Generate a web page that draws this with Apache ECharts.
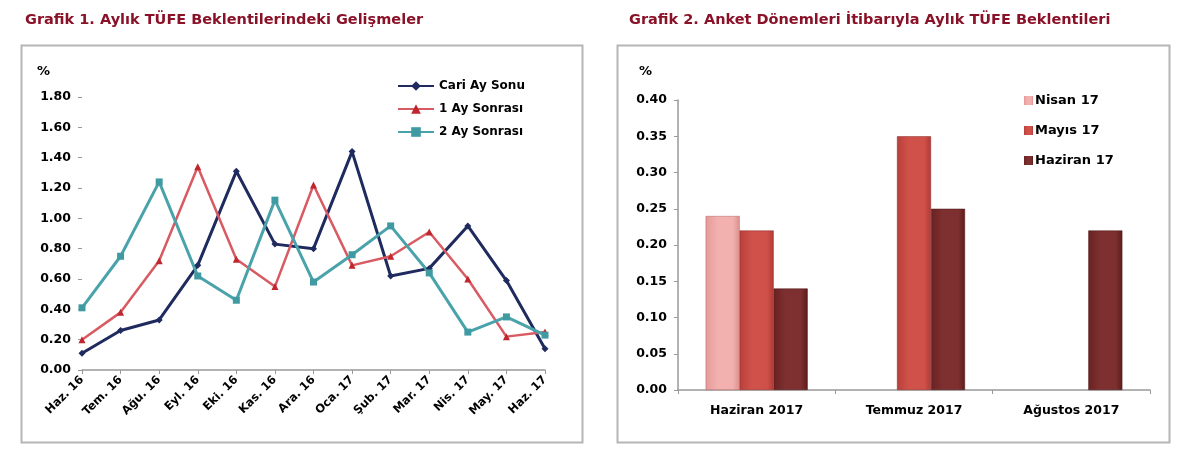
<!DOCTYPE html>
<html><head><meta charset="utf-8">
<script src="https://cdn.jsdelivr.net/npm/echarts@6/dist/echarts.min.js"></script>
<style>html,body{margin:0;padding:0;background:#fff}#c{width:1200px;height:458px}</style>
</head><body><div id="c"></div>
<script>
const months = ['Haz. 16','Tem. 16','Ağu. 16','Eyl. 16','Eki. 16','Kas. 16','Ara. 16','Oca. 17','Şub. 17','Mar. 17','Nis. 17','May. 17','Haz. 17'];
const cariAySonu = [0.11,0.26,0.33,0.69,1.31,0.83,0.80,1.44,0.62,0.67,0.95,0.59,0.14];
const birAySonrasi = [0.20,0.38,0.72,1.34,0.73,0.55,1.22,0.69,0.75,0.91,0.60,0.22,0.25];
const ikiAySonrasi = [0.41,0.75,1.24,0.62,0.46,1.12,0.58,0.76,0.95,0.64,0.25,0.35,0.23];

const periods = ['Haziran 2017','Temmuz 2017','Ağustos 2017'];
const nisan17 = [0.24,null,null];
const mayis17 = [0.22,0.35,null];
const haziran17 = [0.14,0.25,0.22];

const FONT = 'DejaVu Sans';
const chart = echarts.init(document.getElementById('c'));
function grad(c1,c2,c3){
  return new echarts.graphic.LinearGradient(0,0,1,0,[{offset:0,color:c1},{offset:0.35,color:c2},{offset:0.8,color:c2},{offset:1,color:c3}]);
}
const axLabel = {color:'#000',fontFamily:FONT,fontWeight:'bold',fontSize:12.5};
chart.setOption({
  animation:false,
  textStyle:{fontFamily:FONT},
  title:[
    {text:'Grafik 1. Aylık TÜFE Beklentilerindeki Gelişmeler',left:20,top:8,textStyle:{color:'#8a1228',fontSize:14.5,fontWeight:'bold',fontFamily:FONT}},
    {text:'Grafik 2. Anket Dönemleri İtibarıyla Aylık TÜFE Beklentileri',left:624,top:8,textStyle:{color:'#8a1228',fontSize:14.5,fontWeight:'bold',fontFamily:FONT}}
  ],
  graphic:[
    {type:'rect',shape:{x:21.5,y:45.5,width:561,height:397},style:{fill:'none',stroke:'#b5b5b5',lineWidth:2},z:-1},
    {type:'rect',shape:{x:617.5,y:45.5,width:552,height:397},style:{fill:'none',stroke:'#b5b5b5',lineWidth:2},z:-1},
    {type:'text',left:37,top:65,style:{text:'%',fill:'#000',font:'bold 13px "DejaVu Sans"'}},
    {type:'text',left:639,top:65,style:{text:'%',fill:'#000',font:'bold 13px "DejaVu Sans"'}}
  ],
  legend:[
    {orient:'vertical',left:392,top:75,itemGap:11,itemWidth:36,itemHeight:12,
     textStyle:{color:'#000',fontWeight:'bold',fontSize:12,fontFamily:FONT},
     data:['Cari Ay Sonu','1 Ay Sonrası','2 Ay Sonrası']},
    {orient:'vertical',left:1019,top:89,itemGap:17,itemWidth:9,itemHeight:9,icon:'rect',itemStyle:{borderWidth:0},
     textStyle:{color:'#000',fontWeight:'bold',fontSize:13,fontFamily:FONT,padding:[0,0,0,-3]},
     data:['Nisan 17','Mayıs 17','Haziran 17']}
  ],
  grid:[
    {left:82,top:97,width:463,height:273},
    {left:678,top:100,width:472,height:290}
  ],
  xAxis:[
    {gridIndex:0,type:'category',data:months,boundaryGap:false,
     axisLine:{lineStyle:{color:'#999',width:1.5}},axisTick:{show:true,length:4,lineStyle:{color:'#999'}},
     axisLabel:Object.assign({},axLabel,{rotate:45,fontSize:11.5,margin:8,interval:0})},
    {gridIndex:1,type:'category',data:periods,
     axisLine:{lineStyle:{color:'#999',width:1.5}},axisTick:{show:true,length:4,lineStyle:{color:'#999'}},
     axisLabel:Object.assign({},axLabel,{margin:14})}
  ],
  yAxis:[
    {gridIndex:0,type:'value',min:0,max:1.8,interval:0.2,
     axisLine:{show:false},axisTick:{show:true,length:4,lineStyle:{color:'#999'}},splitLine:{show:false},
     axisLabel:Object.assign({},axLabel,{formatter:v=>v.toFixed(2),margin:11})},
    {gridIndex:1,type:'value',min:0,max:0.4,interval:0.05,
     axisLine:{show:true,lineStyle:{color:'#999',width:1.5}},axisTick:{show:true,length:4,lineStyle:{color:'#999'}},splitLine:{show:false},
     axisLabel:Object.assign({},axLabel,{formatter:v=>v.toFixed(2),margin:11})}
  ],
  series:[
    {name:'Cari Ay Sonu',type:'line',xAxisIndex:0,yAxisIndex:0,data:cariAySonu,
     lineStyle:{color:'#1f2b5e',width:3},itemStyle:{color:'#1f2b5e'},symbol:'diamond',symbolSize:7},
    {name:'1 Ay Sonrası',type:'line',xAxisIndex:0,yAxisIndex:0,data:birAySonrasi,
     lineStyle:{color:'#d85a62',width:2.5},itemStyle:{color:'#c0262e'},symbol:'triangle',symbolSize:7},
    {name:'2 Ay Sonrası',type:'line',xAxisIndex:0,yAxisIndex:0,data:ikiAySonrasi,
     lineStyle:{color:'#4aa3aa',width:3},itemStyle:{color:'#3f9aa2'},symbol:'rect',symbolSize:7},
    {name:'Nisan 17',type:'bar',xAxisIndex:1,yAxisIndex:1,data:nisan17,barWidth:34,barGap:'0%',
     itemStyle:{color:grad('#e59a98','#f2b0ae','#dc908e'),borderColor:'#b06060',borderWidth:0.5}},
    {name:'Mayıs 17',type:'bar',xAxisIndex:1,yAxisIndex:1,data:mayis17,barWidth:34,barGap:'0%',
     itemStyle:{color:grad('#b8403a','#d0514a','#b03a36'),borderColor:'#8a2a28',borderWidth:0.5}},
    {name:'Haziran 17',type:'bar',xAxisIndex:1,yAxisIndex:1,data:haziran17,barWidth:34,barGap:'0%',
     itemStyle:{color:grad('#6a2222','#7e3030','#5e1c1c'),borderColor:'#4a1414',borderWidth:0.5}}
  ]
});
</script></body></html>
